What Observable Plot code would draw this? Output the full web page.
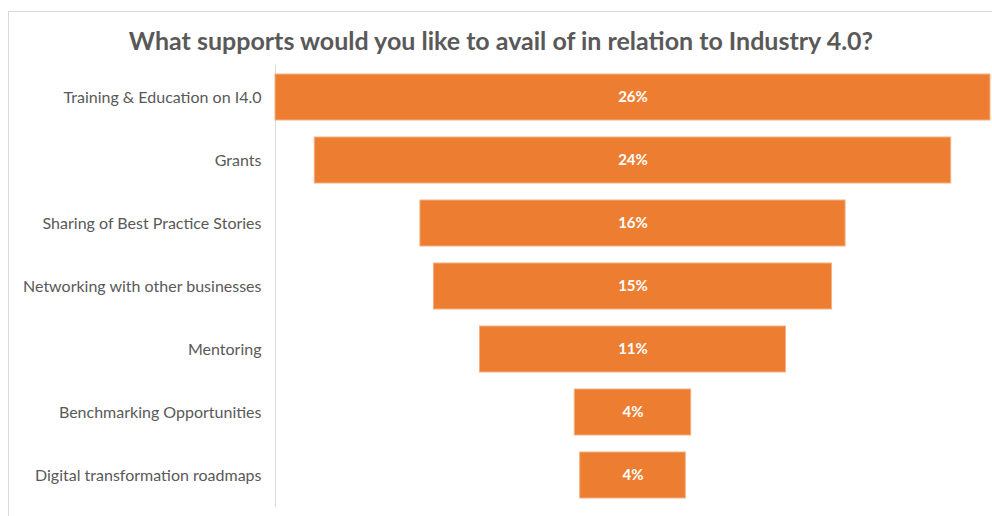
<!DOCTYPE html>
<html>
<head>
<meta charset="utf-8">
<script src="https://cdn.jsdelivr.net/npm/d3@7"></script>
<script src="https://cdn.jsdelivr.net/npm/@observablehq/plot@0.6"></script>
<style>
  html, body { margin: 0; padding: 0; background: #fff; width: 992px; height: 516px; overflow: hidden; }
  #frame { position: absolute; left: 8px; top: 11px; width: 1000px; height: 520px;
           border-top: 1px solid #d9d9d9; border-left: 1px solid #d9d9d9; }
  #title { position: absolute; left: 8px; top: 0; width: 986px; height: 60px; line-height: 80px;
           text-align: center; font-family: Lato, sans-serif; font-weight: bold; font-size: 25px; color: #595959; }
  #chart { position: absolute; left: 0; top: 60px; }
</style>
</head>
<body>
<div id="frame"></div>
<div id="title">What supports would you like to avail of in relation to Industry 4.0?</div>
<div id="chart"></div>
<script>
const categories = [
  "Training & Education on I4.0",
  "Grants",
  "Sharing of Best Practice Stories",
  "Networking with other businesses",
  "Mentoring",
  "Benchmarking Opportunities",
  "Digital transformation roadmaps"
];
const values = [26.4, 23.5, 15.7, 14.7, 11.3, 4.3, 3.9];

const data = categories.map((c, i) => ({category: c, value: values[i]}));
const maxV = d3.max(values);

const chart = Plot.plot({
  width: 992,
  height: 456,
  marginTop: 5,
  marginBottom: 10,
  marginLeft: 275,
  marginRight: 2,
  style: {fontFamily: "Lato, sans-serif", color: "#595959", background: "transparent"},
  x: {domain: [-maxV / 2, maxV / 2], axis: null},
  y: {domain: categories, paddingInner: 0.27, paddingOuter: 0.135, label: null},
  marks: [
    Plot.frame({anchor: "left", stroke: "#d9d9d9"}),
    Plot.axisY({tickSize: 0, tickPadding: 14, fontSize: 16, label: null}),
    Plot.barX(data, {y: "category", x1: d => -d.value / 2, x2: d => d.value / 2,
      fill: "#ED7D31", stroke: "#f4b183", strokeWidth: 1}),
    Plot.text(data, {y: "category", x: 0, text: d => Math.round(d.value) + "%",
      fill: "white", fontWeight: "bold", fontSize: 15})
  ]
});
document.getElementById("chart").appendChild(chart);
</script>
</body>
</html>
